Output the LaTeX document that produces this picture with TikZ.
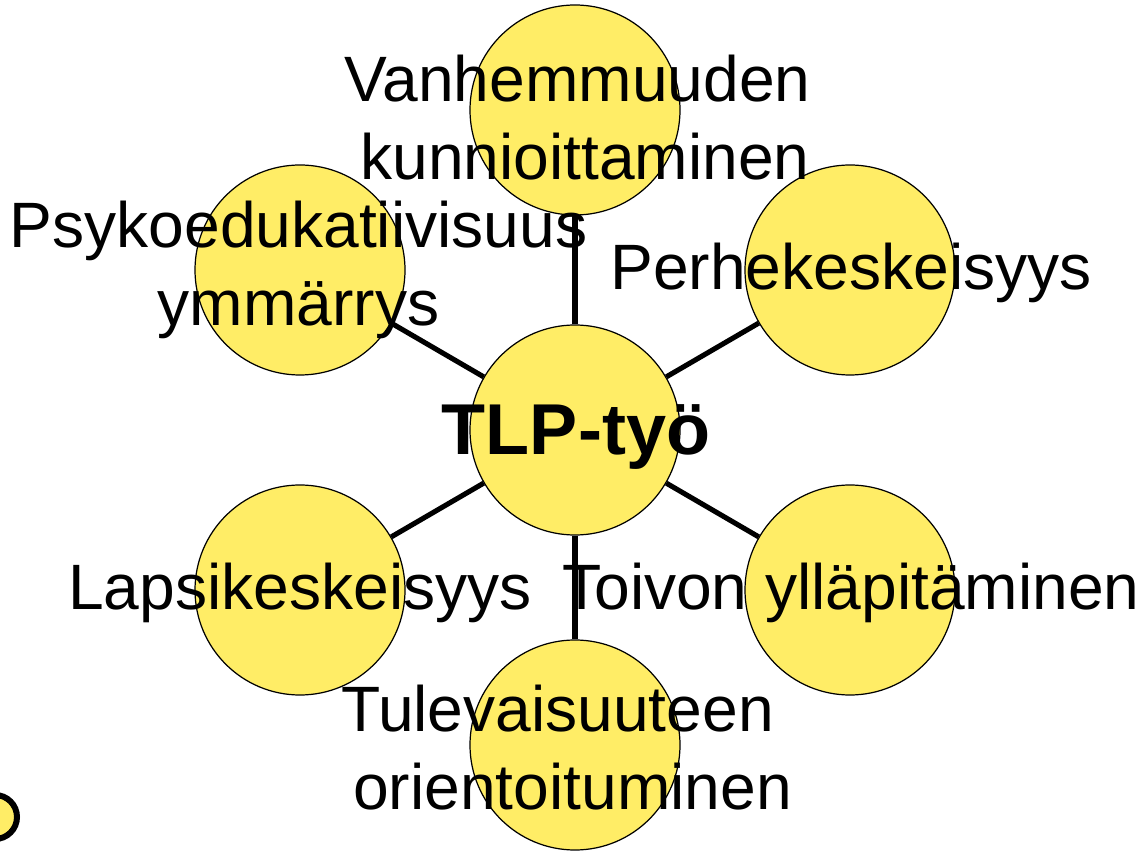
\documentclass[tikz,border=0pt]{standalone}
\usepackage{fontspec}
\setmainfont{Liberation Sans}
\definecolor{tlpyellow}{RGB}{255,237,102}

\begin{document}
\begin{tikzpicture}[
    bubble/.style={circle,draw=black,line width=0.7pt,fill=tlpyellow,minimum size=4.2cm,inner sep=0pt},
    spoke/.style={line width=2.9pt},
    word/.style={align=center,font=\fontsize{36.5}{44}\selectfont}
  ]
  \useasboundingbox (0,0) rectangle (22.92,-17.1);

  % bubbles
  \node[bubble] (tlp) at (11.5,-8.6) {};
  \node[bubble] (vanh) at (11.5,-2.2) {};
  \node[bubble] (perhe) at (17,-5.4) {};
  \node[bubble] (psyko) at (6,-5.4) {};
  \node[bubble] (lapsi) at (6,-11.8) {};
  \node[bubble] (toivo) at (17,-11.8) {};
  \node[bubble] (tulev) at (11.5,-14.9) {};

  % spokes
  \foreach \n in {vanh,perhe,psyko,lapsi,toivo,tulev}
    \draw[spoke] (tlp) -- (\n);

  % texts
  \node[font=\fontsize{41}{48}\selectfont\bfseries] at (11.52,-8.75) {TLP-työ};
  \node[word] (vanhtext) at (11.55,-2.35) {Vanhemmuuden\\\hspace*{0.3cm}kunnioittaminen};
  \node[word] (perhetext) at (17.02,-5.45) {Perhekeskeisyys};
  \node[word] (psykotext) at (5.97,-5.4) {Psykoedukatiivisuus\\ymmärrys};
  \node[word] (lapsitext) at (6,-11.85) {Lapsikeskeisyys};
  \node[word] (toivotext) at (17.02,-11.85) {Toivon ylläpitäminen};
  \node[word] (tulevtext) at (11.15,-14.95) {Tulevaisuuteen\\\hspace*{0.6cm}orientoituminen};

  % corner mark
  \draw[line width=3.4pt,fill=tlpyellow] (-0.1,-16.34) circle (0.44);
\end{tikzpicture}
\end{document}
